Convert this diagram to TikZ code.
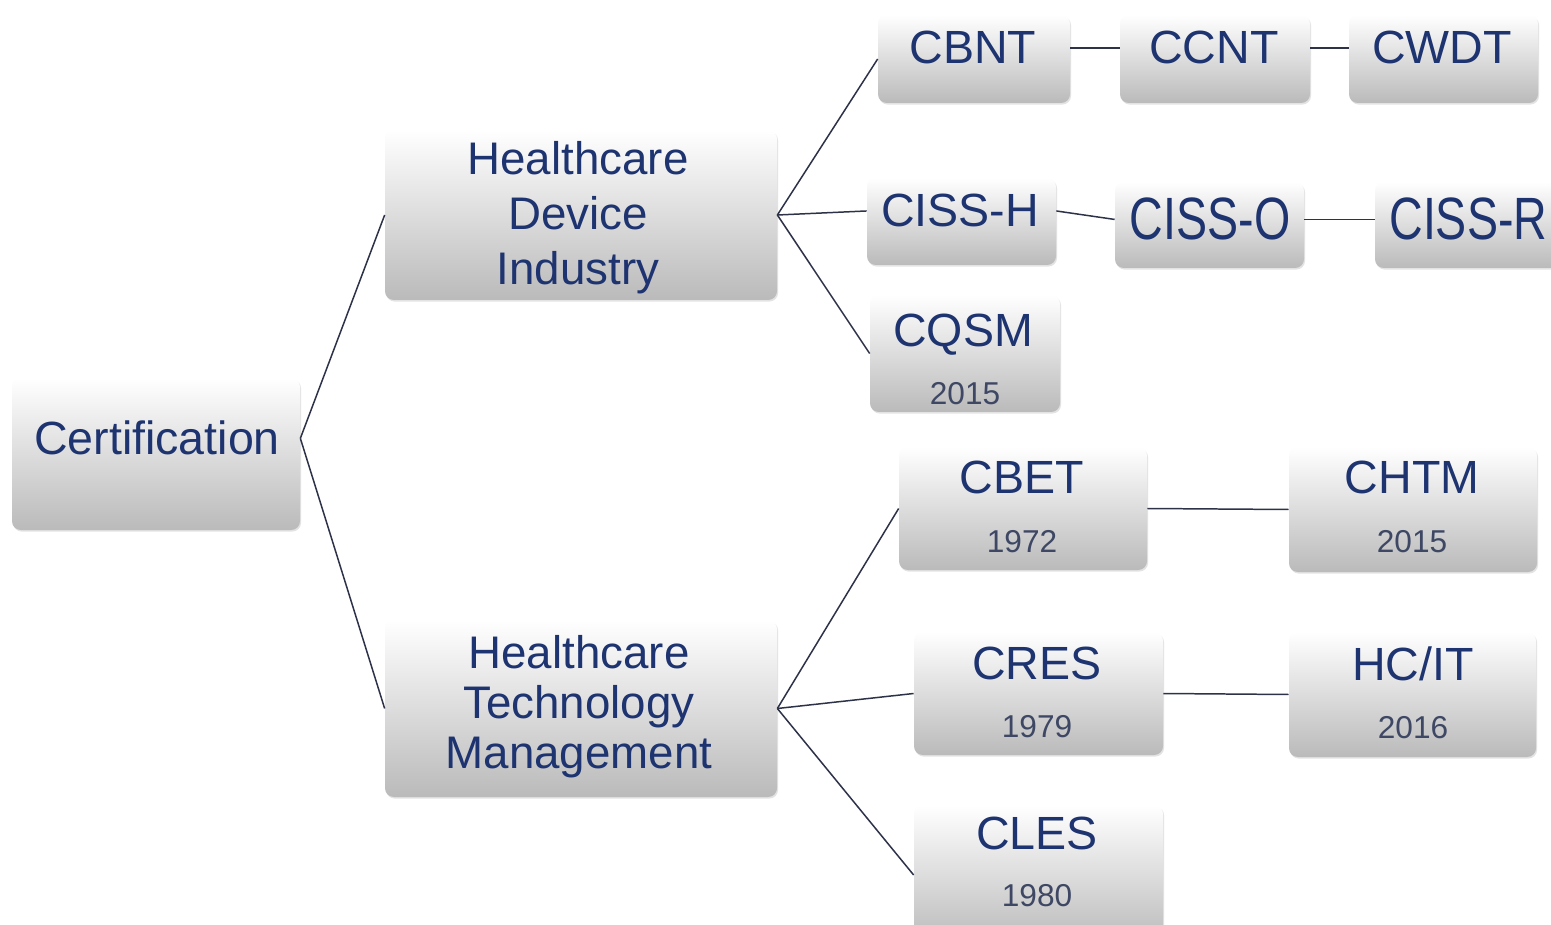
\documentclass[tikz,border=0pt]{standalone}
\usepackage{fontspec}
\usepackage{graphicx}
\setmainfont{Liberation Sans}
\usetikzlibrary{fit,shadows}
\definecolor{navy}{RGB}{30,52,112}
\definecolor{yrcol}{RGB}{62,72,100}
\definecolor{lncol}{RGB}{45,50,72}
\begin{document}
\begin{tikzpicture}[x=0.02cm,y=-0.02cm,
  box/.style={inner sep=0pt, rounded corners=5pt, top color=white,
    middle color=black!4, bottom color=black!27, draw=none,
    drop shadow={opacity=0.22, shadow xshift=0.6pt, shadow yshift=-0.9pt}},
  lbl/.style={text=navy, font=\fontsize{26.5}{32}\selectfont, inner sep=0pt},
  yrs/.style={text=yrcol, font=\fontsize{18}{22}\selectfont, inner sep=0pt},
  conn/.style={draw=lncol, line width=0.85pt}
]
\clip (0,0) rectangle (1551,925);
\fill[white] (0,0) rectangle (1551,925);

% level 0
\node[box, fit={(12,378) (300,530)}] (cert) {};
\node[lbl, anchor=base] (certT) at (157,455) {Certification};

% level 1
\node[box, fit={(385,130) (777,300)}] (hdi) {};
\node[lbl, align=center, font=\fontsize{26}{31.2}\selectfont] (hdiT) at (578,218) {Healthcare\\Device\\Industry};
\node[box, fit={(385,620) (777,797)}] (htm) {};
\node[lbl, align=center, font=\fontsize{26}{28.4}\selectfont] (htmT) at (579,707) {Healthcare\\Technology\\Management};

% level 2, device industry
\node[box, fit={(878,15) (1070,103)}] (cbnt) {};
\node[lbl, anchor=base] (cbntT) at (973,64) {CBNT};
\node[box, fit={(1120,15) (1310,103)}] (ccnt) {};
\node[lbl, anchor=base] (ccntT) at (1214,64) {CCNT};
\node[box, fit={(1349,15) (1538,103)}] (cwdt) {};
\node[lbl, anchor=base] (cwdtT) at (1442,64) {CWDT};

\node[box, fit={(867,178) (1056,265)}] (cissh) {};
\node[lbl, anchor=base] (cisshT) at (960,227) {CISS-H};
\node[box, fit={(1115,182) (1304,268)}] (disso) {};
\node[lbl, anchor=base] (dissoT) at (1210,240) {\scalebox{0.78}[1]{\fontsize{34}{40}\selectfont CISS-O}};
\node[box, fit={(1375,182) (1590,268)}] (cissr) {};
\node[lbl, anchor=base west] (cissrT) at (1389,240) {\scalebox{0.78}[1]{\fontsize{34}{40}\selectfont CISS-R}};

\node[box, fit={(870,295) (1060,412)}] (cqsm) {};
\node[lbl, anchor=base] (cqsmT) at (963,347) {CQSM};
\node[yrs, anchor=base] (cqsmY) at (965,405) {2015};

% level 2, technology management
\node[box, fit={(899,447) (1147,570)}] (cbet) {};
\node[lbl, anchor=base] (cbetT) at (1022,494) {CBET};
\node[yrs, anchor=base] (cbetY) at (1022,552) {1972};
\node[box, fit={(1289,447) (1537,572)}] (chtm) {};
\node[lbl, anchor=base] (chtmT) at (1412,494) {CHTM};
\node[yrs, anchor=base] (chtmY) at (1412,552) {2015};

\node[box, fit={(914,632) (1163,755)}] (cres) {};
\node[lbl, anchor=base] (cresT) at (1037,679) {CRES};
\node[yrs, anchor=base] (cresY) at (1037,737) {1979};
\node[box, fit={(1289,632) (1536,757)}] (hcit) {};
\node[lbl, anchor=base] (hcitT) at (1413,680) {HC/IT};
\node[yrs, anchor=base] (hcitY) at (1413,738) {2016};

\node[box, fit={(914,805) (1163,945)}] (cles) {};
\node[lbl, anchor=base] (clesT) at (1037,849) {CLES};
\node[yrs, anchor=base] (clesY) at (1037,906) {1980};

% connectors
\draw[conn] (cert.east |- certT.center) -- (hdi.west);
\draw[conn] (cert.east |- certT.center) -- (htm.west);
\draw[conn] (hdi.east) -- (cbnt.west);
\draw[conn] (hdi.east) -- (cissh.west |- cisshT.center);
\draw[conn] (hdi.east) -- (cqsm.west);
\draw[conn] (htm.east) -- (cbet.west);
\draw[conn] (htm.east) -- (cres.west);
\draw[conn] (htm.east) -- (cles.west);
\draw[conn] (cbnt.east |- cbntT.center) -- (ccnt.west |- ccntT.center);
\draw[conn] (ccnt.east |- ccntT.center) -- (cwdt.west |- cwdtT.center);
\draw[conn] (cissh.east |- cisshT.center) -- (disso.west |- dissoT.center);
\draw[conn] (disso.east |- dissoT.center) -- (cissr.west |- cissrT.center);
\draw[conn] (cbet.east) -- (chtm.west);
\draw[conn] (cres.east) -- (hcit.west);
\end{tikzpicture}
\end{document}
